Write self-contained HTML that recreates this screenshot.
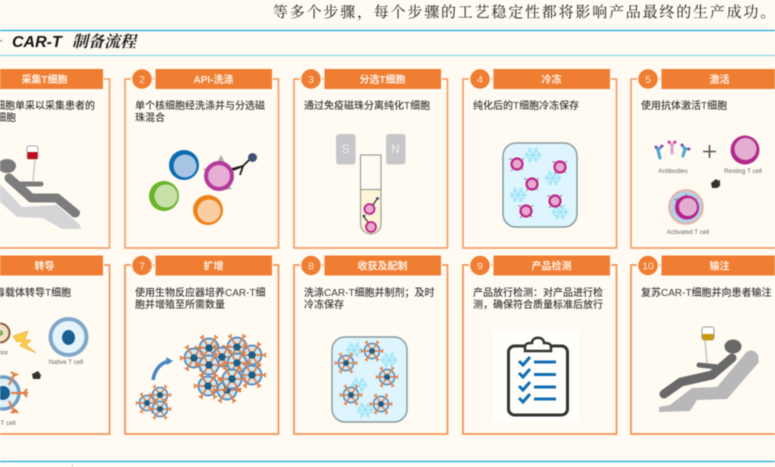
<!DOCTYPE html>
<html lang="zh">
<head>
<meta charset="utf-8">
<title>CAR-T 制备流程</title>
<style>
html,body{margin:0;padding:0;width:775px;height:467px;overflow:hidden;background:#fffbf2}
svg{display:block;filter:blur(.45px)}
text{font-family:"Liberation Sans","Noto Sans CJK SC",sans-serif}
.top{font-family:"Liberation Serif","Noto Serif CJK SC",serif;font-size:15px;letter-spacing:1.8px;fill:#222}
.title{font-weight:bold;font-style:italic;font-size:16px;fill:#111}
.titlecn{font-family:"Noto Serif CJK SC",serif;font-weight:bold;font-style:italic;font-size:16px;fill:#222}
.b{font-size:10px;fill:#3a3a3a;font-weight:500}
.h{font-size:10px;font-weight:bold;fill:#fff3e6;text-anchor:middle}
.n{font-size:10.5px;fill:#ffe6d2;text-anchor:middle}
.l{font-size:6.3px;fill:#666;text-anchor:middle}
</style>
</head>
<body>
<svg width="775" height="467" viewBox="0 0 775 467" xmlns="http://www.w3.org/2000/svg">
<defs>
<g id="frame1">
<rect x="-44" y="79" width="153.5" height="169" fill="none" stroke="#f6985f" stroke-width="1.6"/>
</g>
<g id="hdr">
<rect x="-14" y="68.5" width="117.5" height="21" fill="#ef7d32" stroke="#fffbf2" stroke-width="1"/>
<circle cx="-27" cy="79" r="10.5" fill="#ef7d32" stroke="#fffbf2" stroke-width="1.5"/>
</g>
<g id="frame2">
<rect x="-44" y="265" width="153.5" height="169" fill="none" stroke="#f48a4a" stroke-width="1.6"/>
</g>
<g id="snow" stroke="#a3e6f8" stroke-width="1.800" fill="none">
<path d="M-8.500 0H8.500M-4.300-7.400L4.300 7.400M-4.300 7.400L4.300-7.400"/>
<path d="M-7-2.500L-4.500 0L-7 2.500M7-2.500L4.500 0L7 2.500M-5.500-3L-2-4L-2-6.500M5.500-3L2-4L2-6.500M-5.500 3L-2 4L-2 6.500M5.500 3L2 4L2 6.500"/>
</g>
<g id="pcell">
<path d="M-8-5L-5-5M7-6L5-4M-6 7L-4 5M6 6L4 4" stroke="#999" stroke-width="1.200"/>
<circle r="5.500" fill="#e8a9cf" stroke="#bd2389" stroke-width="2.200"/>
</g>
<g id="car">
<circle r="9.500" fill="#d5e8f1" stroke="#5b8fbe" stroke-width="2"/>
<g stroke="#e07f45" stroke-width="1.800" fill="none">
<path d="M-13 0H13M-7-11L7 11M-7 11L7-11"/>
<path d="M-14-2L-12 0L-14 2M14-2L12 0L14 2M-9-11L-6.500-10L-6-13M9-11L6.500-10L6-13M-9 11L-6.500 10L-6 13M9 11L6.500 10L6 13"/>
</g>
<circle r="3.800" fill="#1a5f8c"/>
</g>
</defs>

<rect width="775" height="467" fill="#fffbf2"/>

<!-- top text -->
<text class="top" x="273" y="17">等多个步骤，每个步骤的工艺稳定性都将影响产品最终的生产成功。</text>
<line x1="0" y1="30.500" x2="775" y2="30.500" stroke="#1aa7e8" stroke-width="1.300"/>
<line x1="0" y1="55.500" x2="775" y2="55.500" stroke="#7ccbee" stroke-width="1"/>
<rect x="0" y="40" width="2" height="1.500" fill="#888"/>
<text class="title" x="12" y="47">CAR-T</text>
<text class="titlecn" x="72" y="47">制备流程</text>
<line x1="0" y1="461.500" x2="775" y2="461.500" stroke="#1aa7e8" stroke-width="1.300"/>
<line x1="72.500" y1="465" x2="72.500" y2="467" stroke="#bbb" stroke-width="1"/>

<!-- frames -->
<use href="#frame1"/>
<use href="#frame1" x="169"/>
<use href="#frame1" x="338"/>
<use href="#frame1" x="507"/>
<use href="#frame1" x="675"/>
<use href="#frame2"/>
<use href="#frame2" x="169"/>
<use href="#frame2" x="338"/>
<use href="#frame2" x="507"/>
<use href="#frame2" x="675"/>

<!-- headers -->
<use href="#hdr"/>
<use href="#hdr" x="169"/>
<use href="#hdr" x="338"/>
<use href="#hdr" x="507"/>
<use href="#hdr" x="675"/>
<use href="#hdr" y="186.500"/>
<use href="#hdr" x="169" y="186.500"/>
<use href="#hdr" x="338" y="186.500"/>
<use href="#hdr" x="507" y="186.500"/>
<use href="#hdr" x="675" y="186.500"/>

<text class="h" x="44.500" y="83">采集T细胞</text>
<text class="h" x="213.500" y="83">API-洗涤</text>
<text class="n" x="142" y="83">2</text>
<text class="h" x="382.500" y="83">分选T细胞</text>
<text class="n" x="311" y="83">3</text>
<text class="h" x="551.500" y="83">冷冻</text>
<text class="n" x="480" y="83">4</text>
<text class="h" x="719.500" y="83">激活</text>
<text class="n" x="648" y="83">5</text>

<text class="h" x="44.500" y="269.500">转导</text>
<text class="h" x="213.500" y="269.500">扩增</text>
<text class="n" x="142" y="269.500">7</text>
<text class="h" x="382.500" y="269.500">收获及配制</text>
<text class="n" x="311" y="269.500">8</text>
<text class="h" x="551.500" y="269.500">产品检测</text>
<text class="n" x="480" y="269.500">9</text>
<text class="h" x="719.500" y="269.500">输注</text>
<text class="n" x="648" y="269.500">10</text>

<!-- body text -->
<text class="b" x="-35" y="109">通过白细胞单采以采集患者的</text>
<text class="b" x="-34" y="121">外周血细胞</text>
<text class="b" x="135" y="109">单个核细胞经洗涤并与分选磁</text>
<text class="b" x="135" y="121">珠混合</text>
<text class="b" x="304" y="109">通过免疫磁珠分离纯化T细胞</text>
<text class="b" x="473" y="109">纯化后的T细胞冷冻保存</text>
<text class="b" x="641" y="109">使用抗体激活T细胞</text>
<text class="b" x="-35" y="296">用慢病毒载体转导T细胞</text>
<text class="b" x="135" y="296">使用生物反应器培养CAR-T细</text>
<text class="b" x="135" y="308">胞并增殖至所需数量</text>
<text class="b" x="304" y="296">洗涤CAR-T细胞并制剂；及时</text>
<text class="b" x="304" y="308">冷冻保存</text>
<text class="b" x="473" y="296">产品放行检测：对产品进行检</text>
<text class="b" x="473" y="308">测，确保符合质量标准后放行</text>
<text class="b" x="641" y="296">复苏CAR-T细胞并向患者输注</text>

<!-- 1 patient -->
<path d="M-2 182L22 207L57 205L80 225L81 229L62 229L43 218L17 217L-2 200Z" fill="#d5d5d8"/>
<rect x="27" y="146" width="11" height="13" rx="2" fill="#fff" stroke="#aaa" stroke-width="1"/>
<rect x="27.500" y="152" width="10" height="7" fill="#c00d1e"/>
<path d="M35 159L33 181" stroke="#bbb" stroke-width="1.200" fill="none"/>
<ellipse cx="7" cy="166" rx="9" ry="7" fill="#7c7c7c"/>
<path d="M9 178L28 195L31 198L57 198L74 212" stroke="#7c7c7c" stroke-width="9" stroke-linecap="round" stroke-linejoin="round" fill="none"/>
<path d="M20 184L41 184" stroke="#7c7c7c" stroke-width="5" stroke-linecap="round"/>
<ellipse cx="75" cy="213" rx="5" ry="4.500" fill="#7c7c7c"/>

<!-- 2 cells -->
<circle cx="184" cy="165" r="15" fill="#0a6cb0"/><circle cx="185" cy="166" r="11.500" fill="#a7c4e4"/>
<path d="M221 155L217 163L225 163ZM203 169L209 174L210 167ZM232 189L226 183L224 190Z" fill="#aaa"/>
<circle cx="219" cy="176" r="15" fill="#b5389b"/><circle cx="219" cy="176" r="11" fill="#e4afd3"/>
<circle cx="164" cy="196" r="15" fill="#6ab42d"/><circle cx="166" cy="196" r="11.500" fill="#c8dfa8"/>
<circle cx="208" cy="210" r="15" fill="#f08018"/><circle cx="209" cy="211" r="11.500" fill="#fbcda3"/>
<path d="M232 169L243 166M233 170L243 166L240 175M243 166L250 159" stroke="#1a1a1a" stroke-width="1.800" fill="none"/>
<circle cx="252.500" cy="157.500" r="4.500" fill="#3e5273"/>

<!-- 3 magnets -->
<rect x="336" y="134" width="19.500" height="30.500" rx="3" fill="#c7c6ca"/>
<rect x="386" y="134" width="19.500" height="30.500" rx="3" fill="#c7c6ca"/>
<text x="345.500" y="153" font-size="12" fill="#eee" text-anchor="middle">S</text>
<text x="395.500" y="153" font-size="12" fill="#eee" text-anchor="middle">N</text>
<path d="M360.500 189.500H381V224a10.250 10 0 0 1 -20.500 0Z" fill="#fdf5d8"/>
<path d="M360.500 155H381V224a10.250 10 0 0 1 -20.500 0ZM360.500 189.500H381" fill="none" stroke="#8c8c88" stroke-width="1"/>
<circle cx="369.500" cy="209" r="5" fill="#e8a9cf" stroke="#bd2389" stroke-width="1.800"/>
<circle cx="371" cy="227" r="5" fill="#e8a9cf" stroke="#bd2389" stroke-width="1.800"/>
<path d="M373 205L377 199" stroke="#333" stroke-width="1.200"/><circle cx="377.500" cy="198.500" r="1.500" fill="#3e5273"/>
<path d="M368 222L364 217" stroke="#333" stroke-width="1.200"/><circle cx="364" cy="216" r="1.500" fill="#3e5273"/>

<!-- 4 freeze -->
<rect x="503" y="143" width="74" height="84" rx="13" fill="#dff5fd" stroke="#8a9aa0" stroke-width="1.500"/>
<use href="#snow" x="533" y="155"/><use href="#snow" x="553" y="178"/><use href="#snow" x="518" y="195"/><use href="#snow" x="560" y="212"/>
<use href="#pcell" x="517" y="164"/><use href="#pcell" x="560" y="167"/><use href="#pcell" x="532" y="184"/><use href="#pcell" x="555" y="201"/><use href="#pcell" x="526" y="211"/>

<!-- 5 activate -->
<g stroke-width="3" fill="none" stroke-linecap="round">
<path d="M660 158L658 150M658 150L656 147M658 150L662 146" stroke="#4ea2d4"/>
<path d="M672 153L672 145M672 145L669 142M672 145L675 142" stroke="#d7a0c8"/>
<path d="M683 156L685 149M685 149L682 145M685 149L689 149" stroke="#4ea2d4"/>
</g>
<circle cx="656" cy="147" r="1.300" fill="#c2288e"/><circle cx="662" cy="146" r="1.300" fill="#c2288e"/><circle cx="669" cy="142" r="1.300" fill="#c2288e"/><circle cx="675" cy="142" r="1.300" fill="#c2288e"/><circle cx="682" cy="145" r="1.300" fill="#c2288e"/><circle cx="689" cy="149" r="1.300" fill="#c2288e"/>
<path d="M703 151.500H716M709.500 145V158" stroke="#555" stroke-width="1.600"/>
<circle cx="745" cy="150" r="14.500" fill="#b32a8c"/><circle cx="745.500" cy="149" r="11" fill="#e3aed2"/>
<text class="l" x="673" y="173">Antibodies</text>
<text class="l" x="743" y="173">Resting T cell</text>
<path d="M711 183L716 179L719 181L720 179L720 186L717 188L712 188Z" fill="#333"/>
<circle cx="686" cy="207" r="17" fill="#b7cfe4" stroke="#eeaa90" stroke-width="1.500"/>
<path d="M686 193L683 199L689 199ZM674 199L678 204L679 198ZM698 199L693 198L694 204Z" fill="#999"/>
<circle cx="687" cy="207.500" r="12" fill="#b5208c"/><circle cx="688" cy="207" r="9" fill="#e4aed2"/>
<text class="l" x="688" y="234">Activated T cell</text>

<!-- 6 transduce -->
<circle cx="0" cy="333" r="9.500" fill="#f3e0c6" stroke="#8c5a3a" stroke-width="2"/>
<circle cx="0" cy="333" r="3" fill="#65b04a"/>
<path d="M13 336L28 331L25 340L31 340L26 345L36 353L20 346L23 341L17 342Z" fill="#f8cd45" stroke="#f0a040" stroke-width=".6"/>
<circle cx="68.500" cy="337" r="18" fill="#e5f4fb" stroke="#80a7ca" stroke-width="4"/>
<ellipse cx="68.500" cy="337.500" rx="6.500" ry="7.500" fill="#1a5f92"/>
<text class="l" x="66" y="364">Native T cell</text>
<text class="l" x="3" y="354.500">ctor</text>
<path d="M32 374L36 372L38 371L41 375L40 379L33 379Z" fill="#333"/>
<circle cx="3" cy="393" r="16" fill="#dcf0f8" stroke="#6e9cc4" stroke-width="3.500"/>
<circle cx="3" cy="393" r="7" fill="#1a5f92"/>
<g stroke="#e07f45" stroke-width="2.200" fill="none">
<path d="M11 393H28M27 389L24 393L27 397"/>
<path d="M9 385L15 373M11 372L15 375L18 374"/>
<path d="M9 401L15 413M11 413L15 410L18 413"/>
</g>
<text class="l" x="7" y="425">-T cell</text>

<!-- 7 expand -->
<path d="M153 380C155 368 162 362 170 361" fill="none" stroke="#4a86c5" stroke-width="3.500"/>
<path d="M173 361L166 357L167 365Z" fill="#4a86c5"/>
<g transform="translate(147 403) scale(.8)"><use href="#car"/></g>
<g transform="translate(160 395) scale(.8)"><use href="#car"/></g>
<g transform="translate(160 409) scale(.8)"><use href="#car"/></g>
<use href="#car" x="209" y="348"/><use href="#car" x="237" y="347"/><use href="#car" x="194" y="358"/><use href="#car" x="252" y="355"/><use href="#car" x="222" y="357"/><use href="#car" x="209" y="365"/><use href="#car" x="237" y="363"/><use href="#car" x="252" y="375"/><use href="#car" x="208" y="386"/><use href="#car" x="227" y="390"/><use href="#car" x="232" y="379"/>

<!-- 8 freeze CAR -->
<rect x="332" y="337" width="75" height="85" rx="13" fill="#dff5fd" stroke="#8a9aa0" stroke-width="1.500"/>
<use href="#snow" x="354" y="350"/><use href="#snow" x="389" y="360"/><use href="#snow" x="359" y="385"/><use href="#snow" x="365" y="410"/>
<g transform="translate(372 351) scale(.8)"><use href="#car"/></g>
<g transform="translate(346 363) scale(.8)"><use href="#car"/></g>
<g transform="translate(387 377) scale(.8)"><use href="#car"/></g>
<g transform="translate(351 395) scale(.8)"><use href="#car"/></g>
<g transform="translate(381 404) scale(.8)"><use href="#car"/></g>

<!-- 9 clipboard -->
<rect x="494" y="330" width="84" height="92" fill="#fffefa"/>
<rect x="508.500" y="346" width="59" height="69" rx="6" fill="#fffefa" stroke="#333" stroke-width="3"/>
<path d="M525 351V347C525 343 529 343 532 343C532 336 544 336 544 343C547 343 551 343 551 347V351Z" fill="#fffefa" stroke="#333" stroke-width="2.500"/>
<g fill="none" stroke="#0f6fb5">
<path d="M519 361L523 365L530 357M519 373L523 377L530 369M519 386L523 390L530 382M519 398L523 402L530 394" stroke-width="3"/>
<path d="M534 362H556M534 374.500H556M534 387H556M534 399H556" stroke-width="3"/>
</g>

<!-- 10 infusion -->
<path d="M659 407L670 405L692 388L717 387L745 354L755 352L759 362L727 399L697 400L690 411L659 412Z" fill="#b8b8b8"/>
<circle cx="751" cy="358" r="7.500" fill="#b8b8b8"/>
<rect x="702" y="327" width="12" height="13" rx="2.500" fill="#fff" stroke="#999" stroke-width="1"/>
<rect x="702.500" y="334" width="11" height="6" fill="#c99a0c"/>
<path d="M705 340L707 363" stroke="#aaa" stroke-width="1" fill="none"/>
<ellipse cx="733" cy="346.500" rx="8.500" ry="7" fill="#696969"/>
<path d="M664 394L681 382L712 375L732 358" stroke="#696969" stroke-width="9" stroke-linecap="round" stroke-linejoin="round" fill="none"/>
<path d="M699 365L718 367" stroke="#696969" stroke-width="5" stroke-linecap="round"/>
</svg>
</body>
</html>
